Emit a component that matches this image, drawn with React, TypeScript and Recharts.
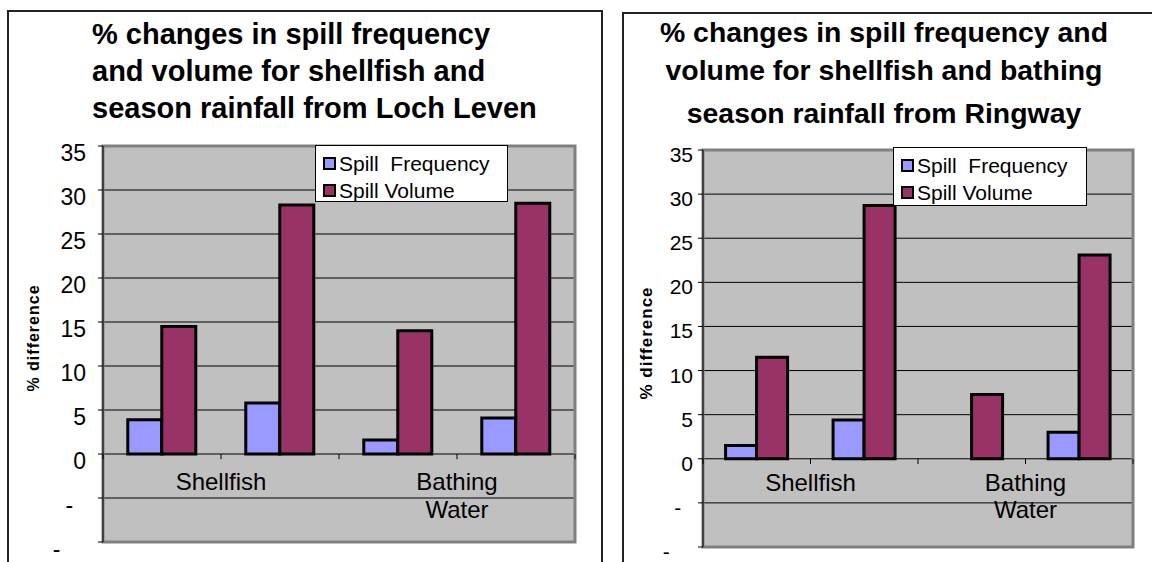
import React from "react";
import { BarChart, Bar, XAxis, YAxis, CartesianGrid, Legend, ReferenceLine, ReferenceArea } from "recharts";

const FONT = '"Liberation Sans", Arial, Helvetica, sans-serif';

// four bars per chart: two for shellfish, two for bathing water
const bands = ["Shellfish 1", "Shellfish 2", "Bathing Water 1", "Bathing Water 2"];
const groupLabels = [["Shellfish"], ["Bathing", "Water"]];
const groupCentres = [1, 3];
const bandEdges = [0, 1, 2, 3, 4];
const yTicks = [-10, -5, 0, 5, 10, 15, 20, 25, 30, 35];

const lochFreq = [3.9, 5.8, 1.6, 4.1];
const lochVol = [14.5, 28.3, 14.0, 28.5];
const ringFreq = [1.5, 4.4, 0, 3.0];
const ringVol = [11.5, 28.7, 7.3, 23.1];

const lochTitle = ["% changes in spill frequency", "and volume for shellfish and", "season rainfall from Loch Leven"];
const ringTitle = ["% changes in spill frequency and", "volume for shellfish and bathing", "season rainfall from Ringway"];

const TICK_DEPTH = 0.6;

// slot = band index + 0.5, so a linear 0..4 axis lines up with the band centres
const toRows = (freq: number[], vol: number[]) =>
  bands.map((b, i) => ({ band: b, slot: i + 0.5, freq: freq[i], vol: vol[i] }));

type Cfg = {
  left: number;
  width: number;
  top: number;
  bottom: number;
  right: number;
  yWidth: number;
  tickFont: number;
  tickMargin: number;
  tickDy: number;
  legend: { left: number; top: number; width: number; height: number };
  catDy: number;
  catGap: number;
};

const lochCfg: Cfg = {
  left: 0, width: 610, top: 146, bottom: 20, right: 35, yWidth: 103,
  tickFont: 23, tickMargin: 12, tickDy: 15,
  legend: { left: 315, top: 145, width: 193, height: 57 },
  catDy: 36, catGap: 28,
};

const ringCfg: Cfg = {
  left: 610, width: 542, top: 150, bottom: 15, right: 19, yWidth: 93,
  tickFont: 21, tickMargin: 5, tickDy: 12,
  legend: { left: 283, top: 147, width: 194, height: 59 },
  catDy: 32, catGap: 27,
};

function YTick(props: any) {
  const { x, y, payload, fontSize, dy } = props;
  const v = payload.value as number;
  const s = String(v);
  return (
    <text x={x} y={y + dy} textAnchor="end" fontSize={fontSize} fontFamily={FONT} fill="#000">
      {v < 0 ? (
        <>
          <tspan>-</tspan>
          <tspan fill="none">{s.slice(1)}</tspan>
        </>
      ) : (
        s
      )}
    </text>
  );
}

function LegendBox(props: any) {
  const { payload } = props;
  return (
    <div
      style={{
        background: "#fff",
        border: "1px solid #000",
        boxSizing: "border-box",
        width: "100%",
        height: "100%",
        padding: "4px 0 0 7px",
        fontFamily: FONT,
        fontSize: 21,
        color: "#000",
      }}
    >
      {(payload || []).map((e: any) => (
        <div key={e.value} style={{ display: "flex", alignItems: "center", height: 27, whiteSpace: "pre" }}>
          <span
            style={{
              display: "inline-block",
              width: 9,
              height: 9,
              background: e.color,
              border: "2px solid #000",
              marginRight: 3,
            }}
          />
          <span>{e.value}</span>
        </div>
      ))}
    </div>
  );
}

function SpillChart({ freq, vol, cfg }: { freq: number[]; vol: number[]; cfg: Cfg }) {
  const data = toRows(freq, vol);
  return (
    <div style={{ position: "absolute", left: cfg.left, top: 0 }}>
      <BarChart
        width={cfg.width}
        height={562}
        data={data}
        margin={{ top: cfg.top, right: cfg.right, bottom: cfg.bottom, left: 0 }}
        barGap={0}
        barCategoryGap="21%"
      >
        <CartesianGrid horizontal vertical={false} stroke="#000" fill="#C0C0C0" fillOpacity={1} />
        <XAxis xAxisId="cat" dataKey="band" hide />
        <XAxis xAxisId="pos" dataKey="slot" type="number" domain={[0, 4]} allowDataOverflow hide />
        <YAxis
          width={cfg.yWidth}
          domain={[-10, 35]}
          ticks={yTicks}
          interval={0}
          allowDataOverflow
          axisLine={{ stroke: "#000" }}
          tickLine={{ stroke: "#000" }}
          tickSize={5}
          tickMargin={cfg.tickMargin}
          tick={(p: any) => <YTick {...p} fontSize={cfg.tickFont} dy={cfg.tickDy} />}
        />
        <ReferenceArea
          xAxisId="pos"
          x1={0}
          x2={4}
          y1={-10}
          y2={35}
          ifOverflow="visible"
          fill="none"
          stroke="#808080"
          strokeWidth={3}
        />
        <Legend
          layout="vertical"
          align="center"
          verticalAlign="middle"
          content={<LegendBox />}
          wrapperStyle={{
            left: cfg.legend.left,
            top: cfg.legend.top,
            width: cfg.legend.width,
            height: cfg.legend.height,
          }}
        />
        <Bar xAxisId="cat" dataKey="freq" name="Spill  Frequency" fill="#9999FF" stroke="#000" strokeWidth={3} isAnimationActive={false} />
        <Bar xAxisId="cat" dataKey="vol" name="Spill Volume" fill="#993366" stroke="#000" strokeWidth={3} isAnimationActive={false} />
        {bandEdges.map((e) => {
          const gi = groupCentres.indexOf(e);
          return (
            <ReferenceLine
              key={e}
              xAxisId="pos"
              segment={[{ x: e, y: 0 }, { x: e, y: -TICK_DEPTH }]}
              ifOverflow="visible"
              stroke="#000"
              strokeWidth={1}
              label={
                gi < 0
                  ? undefined
                  : (p: any) => {
                      const vb = p.viewBox || {};
                      return (
                        <text x={vb.x} y={vb.y + cfg.catDy} textAnchor="middle" fontSize={24} fontFamily={FONT} fill="#000">
                          {groupLabels[gi].map((l, i) => (
                            <tspan key={l} x={vb.x} dy={i === 0 ? 0 : cfg.catGap}>
                              {l}
                            </tspan>
                          ))}
                        </text>
                      );
                    }
              }
            />
          );
        })}
      </BarChart>
    </div>
  );
}

const titleLine = (text: string, baseline: number, size: number, style: React.CSSProperties) => (
  <div
    key={text}
    style={{
      position: "absolute",
      top: baseline - 0.8465 * size,
      fontFamily: FONT,
      fontWeight: 700,
      fontSize: size,
      lineHeight: `${size}px`,
      whiteSpace: "nowrap",
      color: "#000",
      ...style,
    }}
  >
    {text}
  </div>
);

const yLabel = (cx: number, cy: number, size: number) => (
  <div
    style={{
      position: "absolute",
      left: cx,
      top: cy,
      transform: "translate(-50%, -50%) rotate(-90deg)",
      fontFamily: FONT,
      fontWeight: 900,
      fontSize: size,
      letterSpacing: 1,
      whiteSpace: "nowrap",
      color: "#000",
    }}
  >
    % difference
  </div>
);

export default function App() {
  return (
    <div
      style={{
        position: "absolute",
        left: 0,
        top: 0,
        width: 1152,
        height: 562,
        overflow: "hidden",
        background: "#fff",
      }}
    >
      <div style={{ position: "absolute", left: 7, top: 10, width: 596, height: 620, border: "2px solid #222", boxSizing: "border-box" }} />
      <div style={{ position: "absolute", left: 622, top: 12, width: 600, height: 620, border: "2px solid #222", boxSizing: "border-box" }} />
      {lochTitle.map((t, i) => titleLine(t, [45, 82, 119][i], 29, { left: 92 }))}
      {ringTitle.map((t, i) => titleLine(t, [42, 80, 123][i], 28.4, { left: 884, transform: "translateX(-50%)" }))}
      {yLabel(34, 338, 16)}
      {yLabel(647, 343, 17)}
      <SpillChart freq={lochFreq} vol={lochVol} cfg={lochCfg} />
      <SpillChart freq={ringFreq} vol={ringVol} cfg={ringCfg} />
    </div>
  );
}
